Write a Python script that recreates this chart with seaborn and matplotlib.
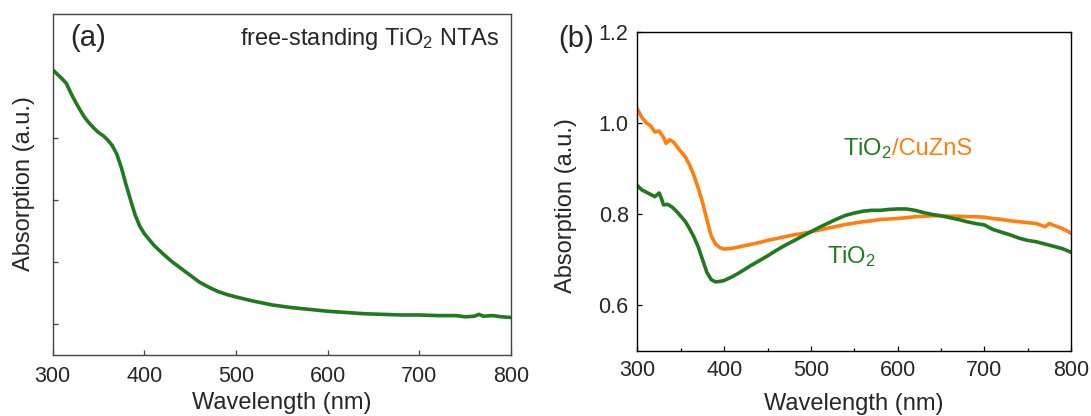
import matplotlib
matplotlib.use("Agg")
import matplotlib.pyplot as plt
import seaborn as sns
import pandas as pd

# ---- (a) free-standing TiO2 nanotube arrays, absorption (arbitrary units)
wl_a = [300, 305, 310, 315, 320, 325, 330, 335, 340, 345, 350, 355, 360, 365,
        370, 375, 380, 385, 390, 395, 400, 410, 420, 430, 440, 450, 460, 470,
        480, 490, 500, 520, 540, 560, 580, 600, 620, 640, 660, 680, 700, 720,
        740, 750, 760, 765, 770, 780, 790, 800]
abs_a = [5.10, 5.03, 4.96, 4.88, 4.72, 4.58, 4.45, 4.33, 4.24, 4.16, 4.09, 4.04,
         3.97, 3.88, 3.74, 3.52, 3.25, 3.00, 2.76, 2.58, 2.46, 2.28, 2.14, 2.01,
         1.90, 1.79, 1.68, 1.60, 1.53, 1.48, 1.44, 1.37, 1.31, 1.27, 1.24, 1.21,
         1.19, 1.17, 1.16, 1.15, 1.15, 1.14, 1.14, 1.12, 1.13, 1.16, 1.13, 1.14,
         1.12, 1.11]

# ---- (b) TiO2 and TiO2/CuZnS absorption spectra
wl_tio2 = [300, 305, 310, 315, 320, 325, 328, 330, 335, 340, 345, 350, 355, 360,
           365, 370, 375, 380, 385, 390, 395, 400, 410, 420, 430, 440, 450, 460,
           470, 480, 490, 500, 510, 520, 530, 540, 550, 560, 570, 580, 590, 600,
           610, 620, 630, 640, 650, 660, 670, 680, 690, 700, 710, 720, 730, 740,
           750, 760, 770, 780, 790, 800]
abs_tio2 = [0.862, 0.853, 0.848, 0.843, 0.838, 0.846, 0.832, 0.820, 0.821, 0.815,
            0.806, 0.795, 0.784, 0.768, 0.750, 0.728, 0.700, 0.672, 0.656, 0.651,
            0.652, 0.654, 0.663, 0.674, 0.686, 0.697, 0.708, 0.720, 0.731, 0.741,
            0.751, 0.761, 0.771, 0.780, 0.789, 0.797, 0.802, 0.806, 0.808, 0.808,
            0.810, 0.811, 0.811, 0.808, 0.803, 0.799, 0.796, 0.792, 0.788, 0.783,
            0.779, 0.776, 0.766, 0.760, 0.754, 0.747, 0.742, 0.739, 0.734, 0.729,
            0.724, 0.716]

wl_cuzns = [300, 305, 310, 315, 320, 325, 330, 333, 337, 342, 347, 355, 360, 365,
            370, 375, 380, 385, 390, 395, 400, 410, 420, 430, 440, 450, 460, 470,
            480, 490, 500, 510, 520, 530, 540, 550, 560, 570, 580, 590, 600, 610,
            620, 630, 640, 650, 660, 670, 680, 690, 700, 710, 720, 730, 740, 750,
            760, 770, 775, 780, 790, 800]
abs_cuzns = [1.030, 1.012, 1.000, 0.994, 0.980, 0.982, 0.968, 0.955, 0.963, 0.957,
             0.944, 0.926, 0.908, 0.885, 0.857, 0.826, 0.788, 0.752, 0.734, 0.726,
             0.723, 0.725, 0.729, 0.733, 0.737, 0.742, 0.746, 0.750, 0.754, 0.757,
             0.761, 0.765, 0.769, 0.773, 0.777, 0.780, 0.783, 0.785, 0.788, 0.789,
             0.790, 0.792, 0.794, 0.795, 0.796, 0.796, 0.795, 0.795, 0.794, 0.794,
             0.793, 0.790, 0.788, 0.785, 0.783, 0.781, 0.779, 0.772, 0.779, 0.775,
             0.768, 0.758]

GREEN = "#1f7a1f"
ORANGE = "#ff7f0e"

sns.set_style("ticks")
plt.rcParams["font.family"] = ["Liberation Sans", "DejaVu Sans"]
plt.rcParams["mathtext.default"] = "regular"

fig = plt.figure(figsize=(10.91, 4.16), dpi=100)
ax_a = fig.add_axes([0.0483, 0.1459, 0.4201, 0.8204])
ax_b = fig.add_axes([0.5843, 0.157, 0.3974, 0.7668])

df_a = pd.DataFrame({"Wavelength": wl_a, "Absorption": abs_a})
sns.lineplot(data=df_a, x="Wavelength", y="Absorption", ax=ax_a,
             color=GREEN, linewidth=2.6)

df_t = pd.DataFrame({"Wavelength": wl_tio2, "Absorption": abs_tio2})
df_c = pd.DataFrame({"Wavelength": wl_cuzns, "Absorption": abs_cuzns})
sns.lineplot(data=df_c, x="Wavelength", y="Absorption", ax=ax_b,
             color=ORANGE, linewidth=2.6)
sns.lineplot(data=df_t, x="Wavelength", y="Absorption", ax=ax_b,
             color=GREEN, linewidth=2.6)

tick_fs = 15.5
label_fs = 17

# panel (a)
ax_a.set_xlim(300, 800)
ax_a.set_ylim(0.5, 6.0)
ax_a.set_xticks([300, 400, 500, 600, 700, 800])
ax_a.set_yticks([1, 2, 3, 4])
ax_a.set_yticklabels([])
ax_a.tick_params(axis="x", direction="in", length=3.6, width=0.9,
                 labelsize=tick_fs, pad=7.5, color="#444444")
ax_a.tick_params(axis="y", direction="in", length=3.6, width=0.9,
                 color="#444444")
for s in ax_a.spines.values():
    s.set_color("#444444")
    s.set_linewidth(1.0)
ax_a.set_xlabel("Wavelength (nm)", fontsize=label_fs)
ax_a.set_ylabel("Absorption (a.u.)", fontsize=label_fs)
ax_a.xaxis.set_label_coords(0.50, -0.140)
ax_a.xaxis.label.set_va("center")
ax_a.yaxis.set_label_coords(-0.0626, 0.503)
ax_a.yaxis.label.set_va("center")
ax_a.text(0.038, 0.906, "(a)", transform=ax_a.transAxes, fontsize=21,
          ha="left", va="baseline")
ax_a.text(0.974, 0.909, "free-standing TiO$_2$ NTAs", transform=ax_a.transAxes,
          fontsize=label_fs, ha="right", va="baseline")

# panel (b)
ax_b.set_xlim(300, 800)
ax_b.set_ylim(0.5, 1.2)
ax_b.set_xticks([300, 400, 500, 600, 700, 800])
ax_b.set_xticks([350, 450, 550, 650, 750], minor=True)
ax_b.set_yticks([0.6, 0.8, 1.0, 1.2])
ax_b.set_yticklabels(["0.6", "0.8", "1.0", "1.2"])
ax_b.tick_params(axis="both", which="major", direction="in", length=3.6,
                 width=0.9, labelsize=tick_fs, color="black")
ax_b.tick_params(axis="x", which="major", pad=7)
ax_b.tick_params(axis="y", which="major", pad=6.3)
ax_b.tick_params(axis="x", which="minor", direction="in", length=2.2,
                 width=0.9, color="black")
for s in ax_b.spines.values():
    s.set_color("black")
    s.set_linewidth(1.0)
ax_b.set_xlabel("Wavelength (nm)", fontsize=label_fs)
ax_b.set_ylabel("Absorption (a.u.)", fontsize=label_fs)
ax_b.xaxis.set_label_coords(0.4995, -0.167)
ax_b.xaxis.label.set_va("center")
ax_b.yaxis.set_label_coords(-0.165, 0.454)
ax_b.yaxis.label.set_va("center")

t1 = ax_b.text(537.4, 0.929, "TiO$_2$", color=GREEN, fontsize=label_fs,
               ha="left", va="baseline")
ax_b.annotate("/CuZnS", xy=(1, 0.929), xycoords=(t1, "data"),
              color=ORANGE, fontsize=label_fs, ha="left", va="baseline")
ax_b.text(518.2, 0.693, "TiO$_2$", color=GREEN, fontsize=label_fs,
          ha="left", va="baseline")

fig.text(558 / 1091, 1 - 47 / 416, "(b)", fontsize=21, ha="left",
         va="baseline")

fig.savefig("out.png", dpi=100)
